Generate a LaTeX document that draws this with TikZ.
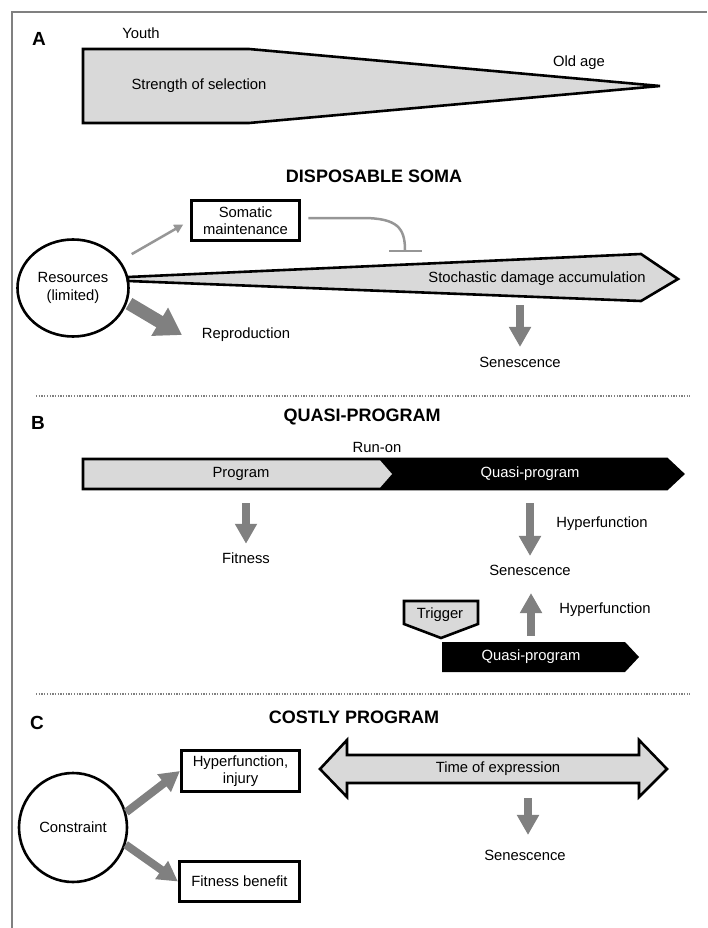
\documentclass[tikz,border=0pt]{standalone}
\usepackage{fontspec}
\setmainfont{Liberation Sans}
\usetikzlibrary{arrows.meta,positioning,calc,shapes.geometric}
\definecolor{framegray}{RGB}{128,128,128}
\definecolor{arrowgray}{RGB}{128,128,128}
\definecolor{linegray}{RGB}{150,150,150}
\definecolor{shadegray}{RGB}{217,217,217}

\begin{document}
\begin{tikzpicture}[
    x=1pt,
    y=-1pt,
    >=Latex
]

\tikzset{
    txt/.style={
        font=\fontsize{14.8}{17.5}\selectfont,
        inner sep=1pt
    },
    heading/.style={
        font=\bfseries\fontsize{18}{20}\selectfont,
        inner sep=1pt
    },
    panel/.style={
        font=\bfseries\fontsize{19}{20}\selectfont,
        inner sep=1pt
    },
    box/.style={
        txt,
        draw,
        line width=2.6pt,
        align=center,
        inner sep=2pt
    },
    blob/.style={
        txt,
        ellipse,
        draw,
        line width=2.6pt,
        align=center,
        inner sep=0pt
    },
    band/.style={
        draw,
        line width=2.6pt,
        fill=shadegray,
        line join=miter
    },
    fat/.style={
        arrowgray,
        line width=8pt,
        -{Triangle[length=20pt,width=21pt]}
    },
    bigfat/.style={
        arrowgray,
        line width=13pt,
        -{Triangle[length=26pt,width=31pt]}
    },
    slim/.style={
        linegray,
        line width=2.5pt,
        -{Triangle[length=9pt,width=9pt]}
    },
    inhib/.style={
        linegray,
        line width=2.5pt,
        -{Bar[width=33pt]}
    },
    dotline/.style={
        framegray,
        line width=1.4pt,
        dash pattern=on 1.3pt off 1.4pt
    }
}

\useasboundingbox (0,0) rectangle (707,928);
\draw[framegray, line width=2pt] (11.5,928) -- (11.5,12.5) -- (707,12.5);

\node[panel] (labA) at (39,39) {A};
\draw[band] (83,49) -- (249,49) -- (660,86) -- (249,123) -- (83,123) -- cycle;
\node[txt] (youth) at (141,33) {Youth};
\node[txt] (oldage) at (579,63) {Old age};
\node[txt] (strength) at (199,86) {Strength of selection};

\node[heading] (somahead) at (374,176) {DISPOSABLE SOMA};

\node[
    blob,
    minimum width=111pt,
    minimum height=97pt
] (res) at (73,288) {Resources\\(limited)};

\node[
    box,
    minimum width=108pt,
    minimum height=40pt
] (maint) at (245.5,220.5) {Somatic\\maintenance};

\draw[band] (128,277) -- (641,254) -- (678,279) -- (641,301) -- (128,281) -- cycle;
\node[txt] (damage) at (537,279) {Stochastic damage accumulation};

\coordinate (block) at (405,252);
\coordinate (reprotip) at (182,335);
\node[txt] (repro) at (246,335) {Reproduction};
\node[txt] (senA) at (520,362) {Senescence};

\draw[slim, shorten <=13pt, shorten >=8pt]
(res.30) -- (maint.west);

\draw[inhib]
([xshift=7.5pt,yshift=2.5pt]maint.east) -- ++(54,0)
.. controls +(35,0) and +(0,-24) .. (block);

\draw[bigfat, shorten <=2pt]
(res.-15) -- (reprotip);

\draw[fat, shorten <=18pt, shorten >=8.6pt]
(damage.south -| senA.north) -- (senA.north);

\draw[dotline] (36,396) -- (690,396);

\node[panel] (labB) at (38,423) {B};
\node[heading] (quasihead) at (362,417) {QUASI-PROGRAM};
\node[txt] (runon) at (377,447) {Run-on};

\draw[band, fill=black] (83,459) -- (667,459) -- (683,474) -- (667,489) -- (83,489) -- cycle;
\fill[shadegray] (84.3,460.3) -- (380,460.3) -- (392,474) -- (380,487.7) -- (84.3,487.7) -- cycle;
\node[txt, minimum height=30pt] (prog) at (241,474) {Program};
\node[txt, minimum height=30pt, text=white] (qprog) at (530,474) {Quasi-program};

\node[txt] (fit) at (246,558) {Fitness};
\node[txt] (hyperdown) at (602,524) {Hyperfunction};
\node[txt] (senB) at (530,570) {Senescence};
\node[txt] (hyperup) at (605,610) {Hyperfunction};

\draw[band] (404,601) -- (478,601) -- (478,624) -- (441,638) -- (404,624) -- cycle;
\node[txt] (trig) at (440,615) {Trigger};

\fill[black] (442,642) -- (625,642) -- (639,657) -- (625,672) -- (442,672) -- cycle;
\node[txt, minimum height=30pt, text=white] (qprog2) at (531,657) {Quasi-program};

\draw[fat, shorten <=14pt, shorten >=7.6pt]
(prog.south -| fit.north) -- (fit.north);

\draw[fat, shorten <=14pt, shorten >=7.6pt]
(qprog.south -| senB.north) -- (senB.north);

\draw[fat, shorten <=6pt, shorten >=16.6pt]
(qprog2.north) -- (qprog2.north |- senB.south);

\draw[dotline] (36,694) -- (690,694);

\node[panel] (labC) at (37,723) {C};
\node[heading] (costlyhead) at (354,717) {COSTLY PROGRAM};

\node[
    blob,
    minimum width=108pt,
    minimum height=109pt
] (con) at (73,827.5) {Constraint};

\node[
    box,
    minimum width=118.5pt,
    minimum height=41.5pt
] (injury) at (240.5,771) {Hyperfunction,\\injury};

\node[
    box,
    minimum width=120.5pt,
    minimum height=40.5pt
] (benefit) at (239.5,881.5) {Fitness benefit};

\draw[band] (320,769) -- (347,740) -- (347,755) -- (639,755) -- (639,740) -- (667,769)
-- (639,797) -- (639,783) -- (347,783) -- (347,797) -- cycle;
\node[txt, minimum height=28pt] (timeexp) at (498,769) {Time of expression};
\node[txt] (senC) at (525,855) {Senescence};

\draw[fat] (con.16) -- (injury.west);
\draw[fat] (con.-18) -- (benefit.west);

\draw[fat, shorten <=15pt, shorten >=13.6pt]
([xshift=3pt]timeexp.south -| senC.north) -- ([xshift=3pt]senC.north);

\end{tikzpicture}
\end{document}
